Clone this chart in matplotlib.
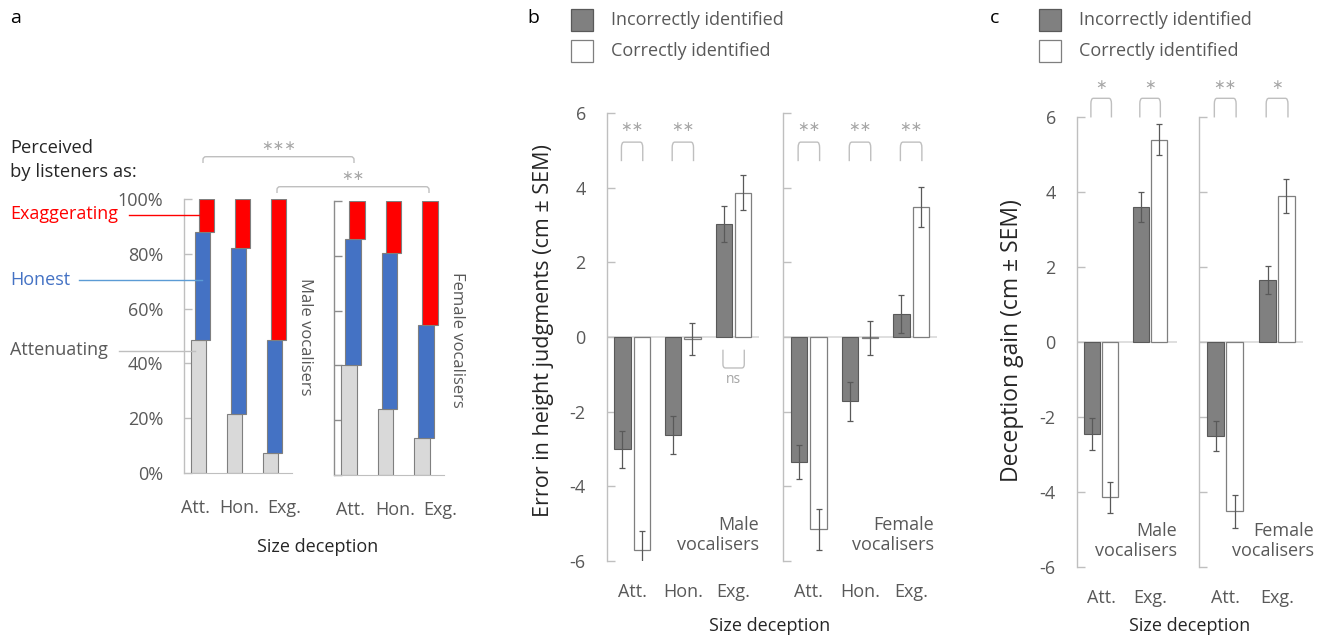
import numpy as np
import matplotlib
matplotlib.use("Agg")
import matplotlib.pyplot as plt
from matplotlib.patches import Rectangle, PathPatch
from matplotlib.path import Path

plt.rcParams['font.family'] = ['Open Sans', 'DejaVu Sans']
plt.rcParams['axes.unicode_minus'] = False

# ==============================
# 数据
# ==============================
# panel a: % perceived as attenuating / honest / exaggerating
a_categories = ["Att.", "Hon.", "Exg."]
a_male_att = [48.5, 21.4, 7.4]
a_male_hon = [39.5, 60.6, 41.1]
a_male_exg = [12.0, 18.0, 51.5]
a_female_att = [40.0, 24.2, 13.6]
a_female_hon = [46.0, 56.8, 41.1]
a_female_exg = [14.0, 19.0, 45.3]
a_ticks = [0, 20, 40, 60, 80, 100]

# panel b: error in height judgments (cm)
b_categories = ["Att.", "Hon.", "Exg."]
b_male_incorrect = [-3.01, -2.62, 3.03]
b_male_incorrect_err = [0.50, 0.51, 0.48]
b_male_correct = [-5.70, -0.05, 3.86]
b_male_correct_err = [0.50, 0.42, 0.47]
b_female_incorrect = [-3.35, -1.72, 0.62]
b_female_incorrect_err = [0.45, 0.52, 0.50]
b_female_correct = [-5.15, -0.02, 3.49]
b_female_correct_err = [0.55, 0.45, 0.54]
b_male_sig = ["∗∗", "∗∗", "ns"]
b_female_sig = ["∗∗", "∗∗", "∗∗"]

# panel c: deception gain (cm)
c_categories = ["Att.", "Exg."]
c_male_incorrect = [-2.46, 3.60]
c_male_incorrect_err = [0.42, 0.40]
c_male_correct = [-4.14, 5.39]
c_male_correct_err = [0.41, 0.41]
c_female_incorrect = [-2.51, 1.65]
c_female_incorrect_err = [0.41, 0.38]
c_female_correct = [-4.52, 3.89]
c_female_correct_err = [0.44, 0.46]
c_male_sig = ["∗", "∗"]
c_female_sig = ["∗∗", "∗"]

yticks_cm = [-6, -4, -2, 0, 2, 4, 6]

# ==============================
# 样式
# ==============================
W, H = 1330, 639
TXT = '#595959'
SPINE = '#BFBFBF'
SIG = '#A6A6A6'
DARK = '#808080'
RED = '#FF0000'
BLUE = '#4472C4'
LGRAY = '#D9D9D9'
FS = 13

fig = plt.figure(figsize=(W / 100, H / 100), dpi=100)


def ax_px(x0, y_top, x1, y_bot):
    return fig.add_axes([x0 / W, 1 - y_bot / H, (x1 - x0) / W, (y_bot - y_top) / H])


def style_axis(ax, show_labels=True, spine_color=SPINE):
    for s in ['top', 'right', 'bottom']:
        ax.spines[s].set_visible(False)
    ax.spines['left'].set_color(spine_color)
    ax.spines['left'].set_linewidth(1)
    ax.tick_params(axis='y', direction='in', length=6, width=1, color=spine_color,
                   labelsize=FS, labelcolor=TXT, pad=15, labelleft=show_labels)
    ax.tick_params(axis='x', length=0, labelsize=FS, labelcolor=TXT)
    ax.patch.set_alpha(0)


def bracket(ax, x0, x1, y_top, y_leg, rx, ry, color=SPINE, lw=1, transform=None):
    sgn = 1 if y_leg < y_top else -1
    verts = [(x0, y_leg), (x0, y_top - sgn * ry), (x0, y_top), (x0 + rx, y_top),
             (x1 - rx, y_top), (x1, y_top), (x1, y_top - sgn * ry), (x1, y_leg)]
    codes = [Path.MOVETO, Path.LINETO, Path.CURVE3, Path.CURVE3,
             Path.LINETO, Path.CURVE3, Path.CURVE3, Path.LINETO]
    p = PathPatch(Path(verts, codes), fill=False, edgecolor=color, lw=lw,
                  transform=transform if transform is not None else ax.transData)
    p.set_clip_on(False)
    ax.add_patch(p)


# ==============================
# panel a: stacked bars
# ==============================
def stacked_panel(ax, att, hon, exg, show_labels, spine_color, label_shift):
    x = np.arange(len(a_categories))
    w = 0.42
    att = np.array(att)
    hon = np.array(hon)
    exg = np.array(exg)
    ax.bar(x, att, w, color=LGRAY, edgecolor='#7F7F7F', lw=0.8, zorder=2)
    ax.bar(x + 0.11, hon, w, bottom=att, color=BLUE, edgecolor='#7F7F7F', lw=0.8, zorder=3)
    ax.bar(x + 0.22, exg, w, bottom=att + hon, color=RED, edgecolor='#7F7F7F', lw=0.8, zorder=4)
    ax.set_xlim(-0.41, 2.6)
    ax.set_ylim(0, 100)
    style_axis(ax, show_labels, spine_color)
    ax.spines['bottom'].set_visible(True)
    ax.spines['bottom'].set_color(SPINE)
    ax.set_yticks(a_ticks)
    ax.set_yticklabels([f"{t}%" for t in a_ticks])
    # category labels are spread wider than the bars in the original
    ax.set_xticks(x * 1.24 + label_shift)
    ax.set_xticklabels(a_categories)
    ax.tick_params(axis='x', pad=19)


ax_am = ax_px(184, 199, 292, 473)
stacked_panel(ax_am, a_male_att, a_male_hon, a_male_exg, True, SPINE, -0.1)
ax_af = ax_px(334, 201, 444, 475)
stacked_panel(ax_af, a_female_att, a_female_hon, a_female_exg, False, '#8C8C8C', 0.03)


# ==============================
# panels b, c: grouped bars with SEM
# ==============================
def pair_panel(ax, cats, inc, inc_err, cor, cor_err, xmax, show_labels, off=0.19, w=0.32):
    x = np.arange(len(cats))
    ax.axhline(0, color=LGRAY, lw=1.2, zorder=1)
    ek = dict(ecolor=TXT, elinewidth=0.9, capsize=2.5, capthick=0.9)
    ax.bar(x - off, inc, w, color=DARK, edgecolor=TXT, lw=0.8, yerr=inc_err, error_kw=ek, zorder=2)
    ax.bar(x + off, cor, w, color='white', edgecolor='#7F7F7F', lw=0.9, yerr=cor_err, error_kw=ek, zorder=2)
    ax.set_xlim(-0.5, xmax)
    ax.set_ylim(-6, 6)
    style_axis(ax, show_labels)
    ax.set_yticks(yticks_cm)
    ax.set_xticks(x)
    ax.set_xticklabels(cats)
    ax.tick_params(axis='x', pad=16)
    return x


def sig_marks(ax, x, sig, off, y_top, y_leg, y_txt, ns_top, ns_leg, ns_txt):
    for xi, s in zip(x, sig):
        if s == 'ns':
            bracket(ax, xi - off, xi + off, ns_leg, ns_top, 0.05, 0.1)
            ax.text(xi, ns_txt, s, ha='center', va='center', color=SIG, fontsize=10)
        else:
            bracket(ax, xi - off, xi + off, y_top, y_leg, 0.05, 0.15)
            ax.text(xi, y_txt, s, ha='center', va='center', color=SIG, fontsize=10,
                    clip_on=False)


ax_bm = ax_px(606.7, 113, 759, 561)
xb = pair_panel(ax_bm, b_categories, b_male_incorrect, b_male_incorrect_err,
                b_male_correct, b_male_correct_err, 2.5, True)
sig_marks(ax_bm, xb, b_male_sig, 0.21, 5.22, 4.71, 5.6, -0.34, -0.83, -1.15)
ax_bm.text(2.5, -5.3, "Male\nvocalisers", ha='right', va='center', color=TXT, fontsize=FS,
           linespacing=1.15)

ax_bf = ax_px(783.3, 113, 936.7, 561)
xb = pair_panel(ax_bf, b_categories, b_female_incorrect, b_female_incorrect_err,
                b_female_correct, b_female_correct_err, 2.5, False)
sig_marks(ax_bf, xb, b_female_sig, 0.21, 5.22, 4.71, 5.6, 0, 0, 0)
ax_bf.text(2.45, -5.3, "Female\nvocalisers", ha='right', va='center', color=TXT, fontsize=FS,
           linespacing=1.15)

ax_cm = ax_px(1076.7, 116.7, 1177, 567)
xc = pair_panel(ax_cm, c_categories, c_male_incorrect, c_male_incorrect_err,
                c_male_correct, c_male_correct_err, 1.55, True, off=0.18, w=0.33)
sig_marks(ax_cm, xc, c_male_sig, 0.21, 6.49, 5.98, 6.82, 0, 0, 0)
ax_cm.text(1.55, -5.3, "Male\nvocalisers", ha='right', va='center', color=TXT, fontsize=FS,
           linespacing=1.15)

ax_cf = ax_px(1199.3, 116.7, 1303, 567)
xc = pair_panel(ax_cf, c_categories, c_female_incorrect, c_female_incorrect_err,
                c_female_correct, c_female_correct_err, 1.5, False, off=0.18, w=0.33)
sig_marks(ax_cf, xc, c_female_sig, 0.21, 6.49, 5.98, 6.82, 0, 0, 0)
ax_cf.text(1.71, -5.3, "Female\nvocalisers", ha='right', va='center', color=TXT, fontsize=FS,
           linespacing=1.15, clip_on=False)

# ==============================
# overlay: annotations, legends, labels
# ==============================
ov = fig.add_axes([0, 0, 1, 1])
ov.set_xlim(0, W)
ov.set_ylim(H, 0)
ov.axis('off')

# panel letters
for lx, lt in [(10, 'a'), (527, 'b'), (990, 'c')]:
    ov.text(lx, 18, lt, ha='left', va='center', fontsize=14, color='black')

# panel a labels
ov.text(10, 160, "Perceived\nby listeners as:", ha='left', va='center', fontsize=13.2,
        color='#262626', linespacing=1.45)
ov.text(10, 214, "Exaggerating", ha='left', va='center', fontsize=13, color=RED)
ov.plot([129, 199], [214.7, 214.7], color=RED, lw=1)
ov.text(10, 280, "Honest", ha='left', va='center', fontsize=13, color=BLUE)
ov.plot([79, 202], [280, 280], color='#5B9BD5', lw=1)
ov.text(10, 350, "Attenuating", ha='left', va='center', fontsize=13, color=TXT)
ov.plot([119, 195], [350.7, 350.7], color=SPINE, lw=1)
ov.text(305, 337, "Male vocalisers", rotation=-90, ha='center', va='center', fontsize=12, color=TXT)
ov.text(457, 340, "Female vocalisers", rotation=-90, ha='center', va='center', fontsize=12, color=TXT)
ov.text(318, 547, "Size deception", ha='center', va='center', fontsize=FS, color='#262626')

# panel a brackets (between male and female axes)
bracket(ov, 203, 354, 156.7, 163, 3, 3, transform=ov.transData)
ov.text(278.5, 146, "∗∗∗", ha='center', va='center', color=SIG, fontsize=10)
bracket(ov, 277, 429, 186.7, 193, 3, 3, transform=ov.transData)
ov.text(353, 176, "∗∗", ha='center', va='center', color=SIG, fontsize=10)

# legends b, c
for rx, tx in [(570.7, 611), (1039, 1079)]:
    ov.add_patch(Rectangle((rx, 9), 22, 22, facecolor=DARK, edgecolor=TXT, lw=0.9))
    ov.add_patch(Rectangle((rx, 40), 22, 22, facecolor='white', edgecolor='#7F7F7F', lw=0.9))
    ov.text(tx, 20, "Incorrectly identified", ha='left', va='center', fontsize=FS, color=TXT)
    ov.text(tx, 51, "Correctly identified", ha='left', va='center', fontsize=FS, color=TXT)

# axis titles b, c
ov.text(544, 331, "Error in height judgments (cm ± SEM)", rotation=90, ha='center',
        va='center', fontsize=15.5, color='#262626')
ov.text(770, 626, "Size deception", ha='center', va='center', fontsize=FS, color='#262626')
ov.text(1012, 341, "Deception gain (cm ± SEM)", rotation=90, ha='center',
        va='center', fontsize=16.5, color='#262626')
ov.text(1190, 626, "Size deception", ha='center', va='center', fontsize=FS, color='#262626')

fig.savefig("out.png", dpi=100)
